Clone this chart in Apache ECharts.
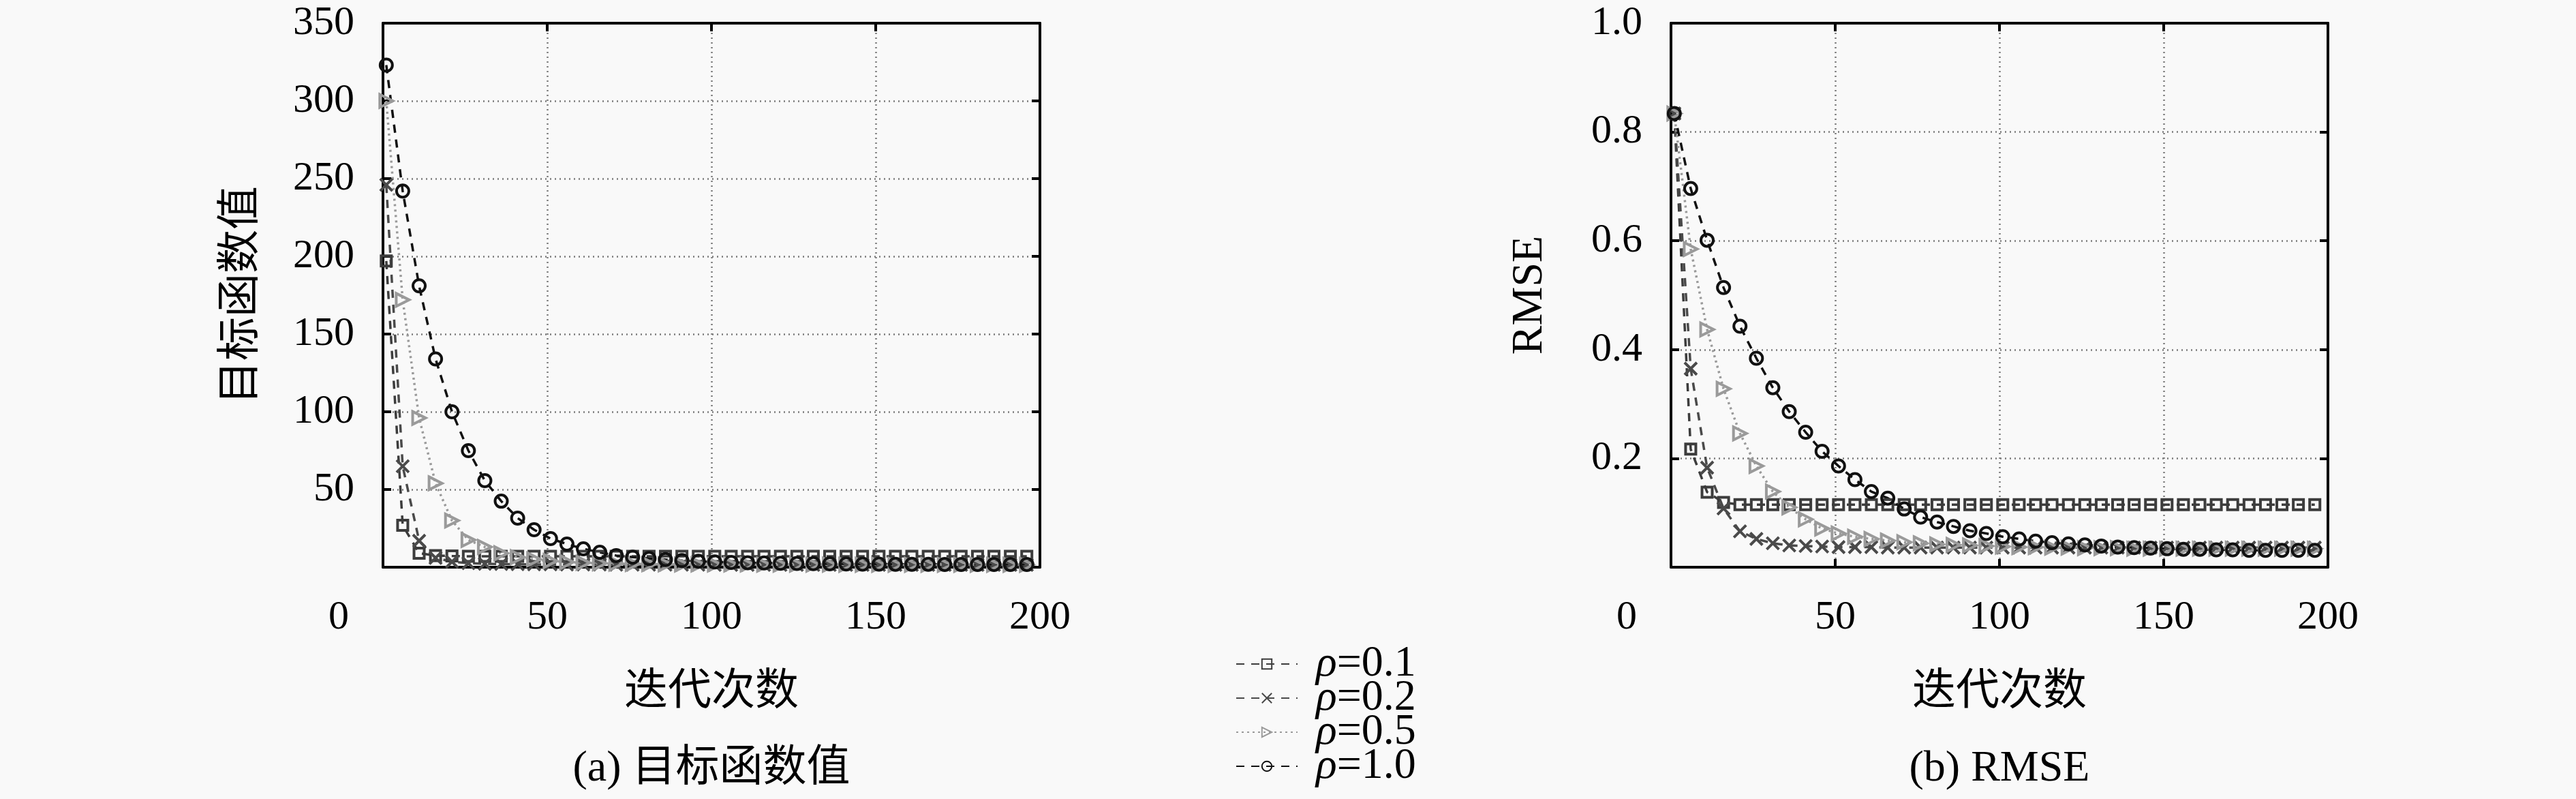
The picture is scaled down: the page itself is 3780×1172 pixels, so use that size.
<!DOCTYPE html>
<html>
<head>
<meta charset="utf-8">
<script src="https://cdn.jsdelivr.net/npm/echarts@6/dist/echarts.min.js"></script>
<style>
html,body{margin:0;padding:0;background:#f9f9f9;}
#c{width:3780px;height:1172px;}
</style>
</head>
<body>
<div id="c"></div>
<script>
// ---- data ----
var iterations = [1,6,11,16,21,26,31,36,41,46,51,56,61,66,71,76,81,86,91,96,101,106,111,116,121,126,131,136,141,146,151,156,161,166,171,176,181,186,191,196];
var seriesNames = ['ρ=0.1','ρ=0.2','ρ=0.5','ρ=1.0'];
var xTicks = [0,50,100,150,200];

// (a) objective function value
var objRho01 = [197,27,9,7.5,7.2,7,7,7,7,7,7,7,7,7,7,7,7,7,7,7,7,7,7,7,7,7,7,7,7,7,7,7,7,7,7,7,7,7,7,7];
var objRho02 = [246,65,17,6,3.5,2.6,2.2,2,1.9,1.8,1.8,1.7,1.7,1.7,1.6,1.6,1.6,1.6,1.6,1.6,1.5,1.5,1.5,1.5,1.5,1.5,1.5,1.5,1.5,1.5,1.5,1.5,1.5,1.5,1.5,1.5,1.5,1.5,1.5,1.5];
var objRho05 = [300,172,96,54,30,17.5,13,9,6.5,5,4,3.3,2.8,2.5,2.3,2.1,2,1.9,1.8,1.8,1.7,1.7,1.7,1.6,1.6,1.6,1.6,1.6,1.5,1.5,1.5,1.5,1.5,1.5,1.5,1.5,1.5,1.5,1.5,1.5];
var objRho10 = [323,242,181,134,100,75,55.7,42.5,31.6,24.1,18.4,14.9,11.8,9.6,7.5,6.5,5.6,4.9,4.3,3.8,3.4,3.1,2.9,2.7,2.5,2.4,2.3,2.2,2.1,2.0,2.0,1.9,1.9,1.9,1.8,1.8,1.8,1.8,1.8,1.8];

// (b) RMSE
var rmseRho01 = [0.834,0.217,0.138,0.119,0.115,0.115,0.115,0.115,0.115,0.115,0.115,0.115,0.115,0.115,0.115,0.115,0.115,0.115,0.115,0.115,0.115,0.115,0.115,0.115,0.115,0.115,0.115,0.115,0.115,0.115,0.115,0.115,0.115,0.115,0.115,0.115,0.115,0.115,0.115,0.115];
var rmseRho02 = [0.834,0.365,0.183,0.108,0.066,0.052,0.044,0.040,0.039,0.038,0.037,0.037,0.037,0.036,0.036,0.036,0.036,0.036,0.036,0.036,0.036,0.036,0.036,0.036,0.036,0.036,0.036,0.036,0.036,0.036,0.036,0.036,0.036,0.036,0.036,0.036,0.036,0.036,0.036,0.036];
var rmseRho05 = [0.834,0.585,0.437,0.328,0.246,0.186,0.139,0.110,0.088,0.071,0.062,0.056,0.052,0.049,0.046,0.044,0.042,0.041,0.040,0.039,0.038,0.037,0.037,0.036,0.036,0.035,0.035,0.035,0.034,0.034,0.034,0.034,0.034,0.034,0.034,0.034,0.034,0.034,0.034,0.034];
var rmseRho10 = [0.834,0.696,0.601,0.514,0.443,0.384,0.330,0.286,0.248,0.213,0.186,0.161,0.139,0.127,0.107,0.092,0.083,0.075,0.067,0.062,0.056,0.052,0.048,0.045,0.043,0.041,0.039,0.037,0.036,0.035,0.034,0.033,0.033,0.032,0.032,0.031,0.031,0.031,0.031,0.031];

var objData = [objRho01, objRho02, objRho05, objRho10];
var rmseData = [rmseRho01, rmseRho02, rmseRho05, rmseRho10];

// ---- styles ----
var FONT = "'Liberation Serif', 'Noto Sans CJK SC', serif";
var styles = [
  {color:'#3c3c3c', dash:[12,10], symbol:'rect', size:15},
  {color:'#4a4a4a', dash:[12,10], symbol:'path://M0,0L10,10M10,0L0,10', size:18},
  {color:'#9a9a9a', dash:[3,5], symbol:'path://M0,0L10,5L0,10Z', size:19},
  {color:'#111111', dash:[12,10], symbol:'circle', size:18}
];

function pairs(arr){ return arr.map(function(v,i){ return [iterations[i], v]; }); }

function makeSeries(dataSets, xi, yi){
  return dataSets.map(function(d,k){
    var s = styles[k];
    return {
      name: seriesNames[k], type:'line', xAxisIndex: xi, yAxisIndex: yi,
      data: pairs(d), symbol: s.symbol, symbolSize: s.size, showSymbol:true,
      clip:false, animation:false,
      lineStyle:{color:s.color, width:3.5, type:s.dash},
      itemStyle:{color:'rgba(0,0,0,0)', borderColor:s.color, borderWidth:4}
    };
  });
}

var grids = [
  {left:562, top:34, width:964, height:798, show:false},
  {left:2452, top:34, width:964, height:798, show:false}
];

var GRIDLINE = {color:'#7a7a7a', width:2.5, type:[2,5]};

function xMain(gi){
  return {
    type:'value', gridIndex:gi, min:0, max:200, interval:50, position:'bottom',
    axisLine:{show:true, onZero:false, lineStyle:{color:'#000', width:4}},
    axisTick:{show:true, inside:true, length:12, lineStyle:{color:'#000', width:4}},
    axisLabel:{show:true, margin:44, fontSize:60, fontFamily:FONT, color:'#000',
      formatter:function(v){ return v===0 ? '{z|0}' : String(v); },
      rich:{z:{fontSize:60, fontFamily:FONT, color:'#000', padding:[0,130,0,0]}}},
    splitLine:{show:true, lineStyle:GRIDLINE},
    name:'迭代次数', nameLocation:'middle', nameGap:152,
    nameTextStyle:{fontSize:64, fontFamily:FONT, color:'#000'}
  };
}
function xMirror(gi){
  return {
    type:'value', gridIndex:gi, min:0, max:200, interval:50, position:'top',
    axisLine:{show:true, onZero:false, lineStyle:{color:'#000', width:4}},
    axisTick:{show:true, inside:true, length:12, lineStyle:{color:'#000', width:4}},
    axisLabel:{show:false}, splitLine:{show:false}
  };
}
function yMain(gi, max, interval, name, fmt){
  return {
    type:'value', gridIndex:gi, min:0, max:max, interval:interval, position:'left',
    axisLine:{show:true, onZero:false, lineStyle:{color:'#000', width:4}},
    axisTick:{show:true, inside:true, length:12, lineStyle:{color:'#000', width:4}},
    axisLabel:{show:true, margin:42, fontSize:60, fontFamily:FONT, color:'#000', formatter:fmt},
    splitLine:{show:true, lineStyle:GRIDLINE},
    name:name, nameLocation:'middle', nameGap:175, nameRotate:90,
    nameTextStyle:{fontSize:64, fontFamily:FONT, color:'#000'}
  };
}
function yMirror(gi, max, interval){
  return {
    type:'value', gridIndex:gi, min:0, max:max, interval:interval, position:'right',
    axisLine:{show:true, onZero:false, lineStyle:{color:'#000', width:4}},
    axisTick:{show:true, inside:true, length:12, lineStyle:{color:'#000', width:4}},
    axisLabel:{show:false}, splitLine:{show:false}
  };
}

var option = {
  backgroundColor:'#f9f9f9',
  animation:false,
  grid: grids,
  xAxis: [xMain(0), xMirror(0), xMain(1), xMirror(1)],
  yAxis: [
    yMain(0, 350, 50, '目标函数值', function(v){ return v===0 ? '' : String(v); }),
    yMirror(0, 350, 50),
    yMain(1, 1.0, 0.2, 'RMSE', function(v){ return v===0 ? '' : v.toFixed(1); }),
    yMirror(1, 1.0, 0.2)
  ],
  legend:{
    data: seriesNames, orient:'vertical', left:1813, top:942, height:400, padding:0,
    itemWidth:90, itemHeight:18, itemGap:-14,
    formatter:function(n){ return '{s|}{i|ρ}{n|' + n.slice(1) + '}'; },
    textStyle:{fontSize:64, fontFamily:FONT, color:'#000', lineHeight:50,
      rich:{
        s:{width:22, lineHeight:50},
        i:{fontSize:64, fontFamily:FONT, fontStyle:'italic', color:'#000', lineHeight:50},
        n:{fontSize:64, fontFamily:FONT, color:'#000', lineHeight:50}
      }}
  },
  graphic:[
    {type:'text', x:1044, y:1128, style:{text:'(a) 目标函数值', fill:'#000', font:'64px ' + FONT, textAlign:'center', textVerticalAlign:'middle'}},
    {type:'text', x:2934, y:1128, style:{text:'(b) RMSE', fill:'#000', font:'64px ' + FONT, textAlign:'center', textVerticalAlign:'middle'}}
  ],
  series: makeSeries(objData, 0, 0).concat(makeSeries(rmseData, 2, 2))
};

var chart = echarts.init(document.getElementById('c'));
chart.setOption(option);
</script>
</body>
</html>
